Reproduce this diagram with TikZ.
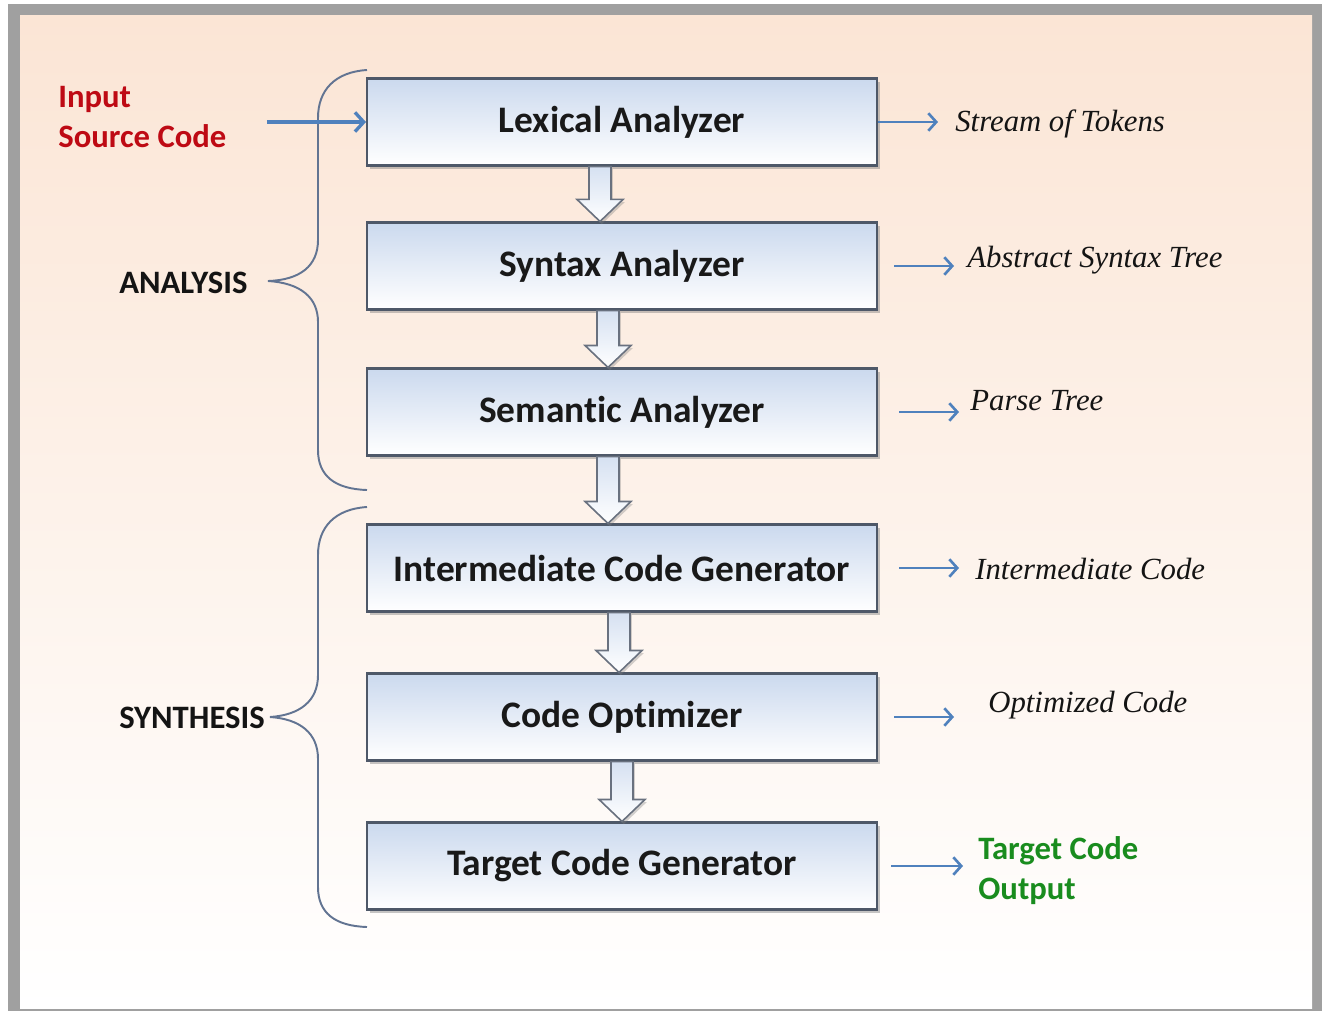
\documentclass[tikz,border=0pt]{standalone}
\usepackage{fontspec}
\usetikzlibrary{calc,shadows,arrows.meta}
\newfontfamily\calib[Ligatures=NoCommon]{Carlito}
\newfontfamily\serifit{Liberation Serif}
\definecolor{peach}{RGB}{251,229,213}
\definecolor{framegray}{RGB}{160,160,160}
\definecolor{boxtop}{RGB}{203,217,238}
\definecolor{boxline}{RGB}{78,88,104}
\definecolor{arrblue}{RGB}{79,129,189}
\definecolor{bracec}{RGB}{98,116,146}
\definecolor{redtxt}{RGB}{190,10,20}
\definecolor{greentxt}{RGB}{25,140,30}
\newcommand\harr[3]{%
  \draw[harrow] ($(#1.south)+(#3-11,0)$) -- ($(#2.north)+(#3-11,-22)$)
    -- ($(#2.north)+(#3-23,-22)$) -- ($(#2.north)+(#3,0)$)
    -- ($(#2.north)+(#3+23,-22)$) -- ($(#2.north)+(#3+11,-22)$)
    -- ($(#1.south)+(#3+11,0)$) -- cycle;}
\begin{document}
\begin{tikzpicture}[x=0.02cm,y=-0.02cm,
  stagebox/.style={draw=boxline, line width=1.2pt, minimum width=10.2cm,
    minimum height=1.74cm, top color=boxtop, bottom color=white, inner sep=0pt,
    drop shadow={shadow xshift=1.5pt,shadow yshift=-2pt,opacity=0.45},
    font=\calib\bfseries\fontsize{21.3}{24}\selectfont, text=black!90},
  harrow/.style={draw=boxline!85, line width=0.9pt, top color=boxtop!80, bottom color=white,
    drop shadow={shadow xshift=1pt,shadow yshift=-1.5pt,opacity=0.35}},
  outarr/.style={draw=arrblue, line width=1.2pt, -{Straight Barb[length=4.5pt,width=10pt,line width=1.5pt]}},
  inarr/.style={draw=arrblue, line width=1.9pt, -{Straight Barb[length=5pt,width=11pt]}},
  brace/.style={draw=bracec, line width=1.1pt},
  itlab/.style={anchor=west, inner sep=0pt, font=\serifit\itshape\fontsize{17.5}{20}\selectfont, text=black!92},
  seclab/.style={anchor=west, inner sep=0pt, font=\calib\bfseries\fontsize{18.6}{21}\selectfont, text=black!92},
  colab/.style={anchor=west, inner sep=0pt, align=left, font=\calib\bfseries\fontsize{18.6}{22.8}\selectfont}]
\useasboundingbox (0,0) rectangle (1322,1011);
\fill[white] (0,0) rectangle (1322,1011);
\fill[framegray] (8,4) rectangle (1322,1011);
\shade[top color=peach, bottom color=white] (20,15) rectangle (1312,1008);

% braces
\draw[brace] (367,70) .. controls (335,72) and (318,90) .. (318,118) -- (318,240)
  .. controls (318,266) and (300,280) .. (268,281)
  .. controls (300,283) and (318,297) .. (318,322) -- (318,450)
  .. controls (318,476) and (335,489) .. (367,490);
\draw[brace] (367,507) .. controls (335,509) and (318,527) .. (318,555) -- (318,675)
  .. controls (318,701) and (300,715) .. (270,717)
  .. controls (300,719) and (318,733) .. (318,759) -- (318,887)
  .. controls (318,913) and (335,926) .. (367,927);

% stages
\node[stagebox] (lex) at (622,122) {Lexical Analyzer};
\node[stagebox] (syn) at (622,266) {Syntax Analyzer};
\node[stagebox] (sem) at (622,412) {Semantic Analyzer};
\node[stagebox] (icg) at (622,568) {Intermediate Code Generator};
\node[stagebox] (opt) at (622,717) {Code Optimizer};
\node[stagebox] (tcg) at (622,866) {Target Code Generator};

\harr{lex}{syn}{-22}
\harr{syn}{sem}{-14}
\harr{sem}{icg}{-14}
\harr{icg}{opt}{-3}
\harr{opt}{tcg}{0}

% left labels
\node[colab, text=redtxt] (inp) at (58,117) {Input\\Source Code};
\draw[inarr] ($(lex.west)+(-99,0)$) -- (lex.west);
\node[seclab] (ana) at (119,283) {ANALYSIS};
\node[seclab] (syn2) at (119,718) {SYNTHESIS};

% right outputs
\node[itlab] (o1) at (955,124) {Stream of Tokens};
\node[itlab] (o2) at (967,260) {Abstract Syntax Tree};
\node[itlab] (o3) at (970,401) {Parse Tree};
\node[itlab] (o4) at (975,569) {Intermediate Code};
\node[itlab] (o5) at (988,705) {Optimized Code};
\node[colab, text=greentxt] (o6) at (978,871) {Target Code\\Output};

\draw[outarr] (lex.east) -- ++(60,0);
\draw[outarr] ($(syn.east)+(16,0)$) -- ++(60,0);
\draw[outarr] ($(sem.east)+(21,0)$) -- ++(60,0);
\draw[outarr] ($(icg.east)+(21,0)$) -- ++(60,0);
\draw[outarr] ($(opt.east)+(16,0)$) -- ++(60,0);
\draw[outarr] ($(tcg.east)+(13,0)$) -- ++(72,0);
\end{tikzpicture}
\end{document}
